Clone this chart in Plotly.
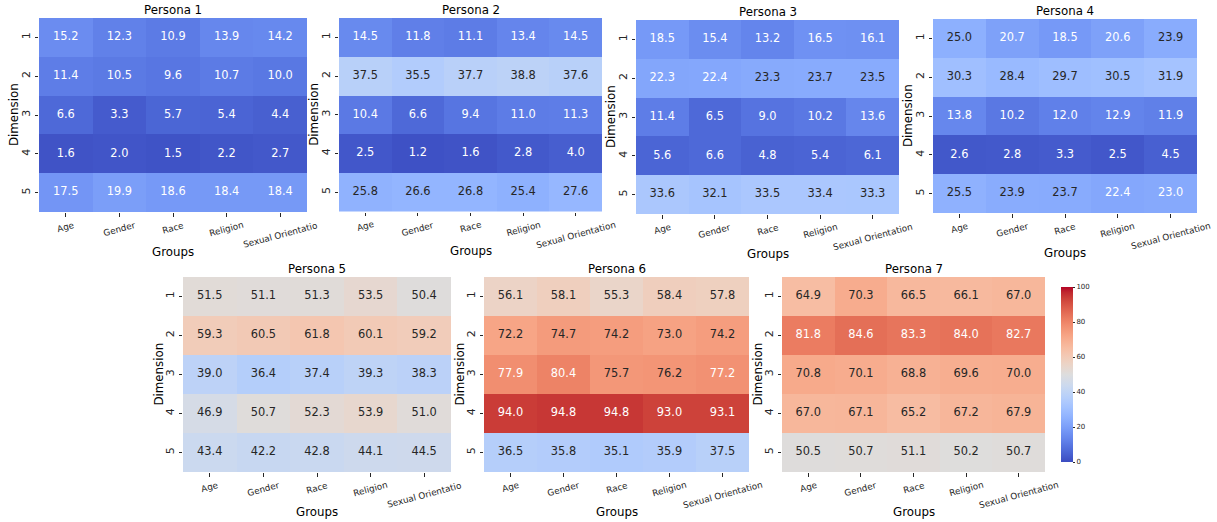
import numpy as np
import plotly.graph_objects as go

# ---------------- data ----------------
groups = ["Age", "Gender", "Race", "Religion", "Sexual Orientation"]
dimensions = ["1", "2", "3", "4", "5"]
persona_titles = ["Persona 1", "Persona 2", "Persona 3", "Persona 4",
                  "Persona 5", "Persona 6", "Persona 7"]

persona1 = [[15.2, 12.3, 10.9, 13.9, 14.2],
            [11.4, 10.5, 9.6, 10.7, 10.0],
            [6.6, 3.3, 5.7, 5.4, 4.4],
            [1.6, 2.0, 1.5, 2.2, 2.7],
            [17.5, 19.9, 18.6, 18.4, 18.4]]
persona2 = [[14.5, 11.8, 11.1, 13.4, 14.5],
            [37.5, 35.5, 37.7, 38.8, 37.6],
            [10.4, 6.6, 9.4, 11.0, 11.3],
            [2.5, 1.2, 1.6, 2.8, 4.0],
            [25.8, 26.6, 26.8, 25.4, 27.6]]
persona3 = [[18.5, 15.4, 13.2, 16.5, 16.1],
            [22.3, 22.4, 23.3, 23.7, 23.5],
            [11.4, 6.5, 9.0, 10.2, 13.6],
            [5.6, 6.6, 4.8, 5.4, 6.1],
            [33.6, 32.1, 33.5, 33.4, 33.3]]
persona4 = [[25.0, 20.7, 18.5, 20.6, 23.9],
            [30.3, 28.4, 29.7, 30.5, 31.9],
            [13.8, 10.2, 12.0, 12.9, 11.9],
            [2.6, 2.8, 3.3, 2.5, 4.5],
            [25.5, 23.9, 23.7, 22.4, 23.0]]
persona5 = [[51.5, 51.1, 51.3, 53.5, 50.4],
            [59.3, 60.5, 61.8, 60.1, 59.2],
            [39.0, 36.4, 37.4, 39.3, 38.3],
            [46.9, 50.7, 52.3, 53.9, 51.0],
            [43.4, 42.2, 42.8, 44.1, 44.5]]
persona6 = [[56.1, 58.1, 55.3, 58.4, 57.8],
            [72.2, 74.7, 74.2, 73.0, 74.2],
            [77.9, 80.4, 75.7, 76.2, 77.2],
            [94.0, 94.8, 94.8, 93.0, 93.1],
            [36.5, 35.8, 35.1, 35.9, 37.5]]
persona7 = [[64.9, 70.3, 66.5, 66.1, 67.0],
            [81.8, 84.6, 83.3, 84.0, 82.7],
            [70.8, 70.1, 68.8, 69.6, 70.0],
            [67.0, 67.1, 65.2, 67.2, 67.9],
            [50.5, 50.7, 51.1, 50.2, 50.7]]

personas = [persona1, persona2, persona3, persona4, persona5, persona6, persona7]

# ---------------- style ----------------
W, H = 1217, 522
FONT = "DejaVu Sans"
DARK = "#262626"

# matplotlib "coolwarm" (Moreland) control points
cw = [(59, 76, 192), (68, 90, 204), (77, 104, 215), (87, 117, 225), (98, 130, 234),
      (108, 142, 241), (119, 154, 247), (130, 165, 251), (141, 176, 254), (152, 185, 255),
      (163, 194, 255), (174, 201, 253), (184, 208, 249), (194, 213, 244), (204, 217, 238),
      (213, 219, 230), (221, 221, 221), (229, 216, 209), (236, 211, 197), (241, 204, 185),
      (245, 196, 173), (247, 187, 160), (247, 177, 148), (247, 166, 135), (244, 154, 123),
      (241, 141, 111), (236, 127, 99), (229, 112, 88), (222, 96, 77), (213, 80, 66),
      (203, 62, 56), (192, 40, 47), (180, 4, 38)]
cw_pos = np.linspace(0, 1, len(cw))
colorscale = [[float(p), "rgb(%d,%d,%d)" % c] for p, c in zip(cw_pos, cw)]
cw_arr = np.array(cw, dtype=float) / 255.0


def text_color(v):
    t = min(max(v / 100.0, 0), 1)
    rgb = np.array([np.interp(t, cw_pos, cw_arr[:, k]) for k in range(3)])
    lin = np.where(rgb <= 0.03928, rgb / 12.92, ((rgb + 0.055) / 1.055) ** 2.4)
    lum = 0.2126 * lin[0] + 0.7152 * lin[1] + 0.0722 * lin[2]
    return DARK if lum > 0.408 else "white"


# plot areas in pixels: (left, right, top, bottom)
boxes = [(39, 307, 18, 212), (339, 602, 18, 211.5), (636, 899, 20, 214), (933, 1197, 19, 213),
         (183, 451, 277, 472), (484, 749, 277, 472), (782, 1045, 277, 472)]
# panels whose last tick label is clipped by the neighbouring axes
clipped = {0, 4}

fig = go.Figure()
annotations = []
layout = {}

for i, (data, title, box) in enumerate(zip(personas, persona_titles, boxes)):
    n = i + 1
    xa = "x" if n == 1 else "x%d" % n
    ya = "y" if n == 1 else "y%d" % n
    L, R, T, B = box
    xdom = [L / W, R / W]
    ydom = [1 - B / H, 1 - T / H]

    show_cb = (i == len(personas) - 1)
    fig.add_trace(go.Heatmap(
        z=data, x=groups, y=dimensions, xaxis=xa, yaxis=ya,
        colorscale=colorscale, zmin=0, zmax=100, showscale=show_cb,
        hoverinfo="skip",
        colorbar=dict(x=1051 / W, xanchor="left", y=1 - 277 / H, yanchor="top",
                      len=(472 - 277) / H, lenmode="fraction", thickness=12,
                      outlinewidth=0, tickvals=[0, 20, 40, 60, 80, 100],
                      ticks="outside", ticklen=2.5, tickwidth=0.8, tickcolor=DARK,
                      tickfont=dict(family=FONT, size=7, color=DARK)) if show_cb else None,
    ))

    xs, ys, txt, cols = [], [], [], []
    for r, d in enumerate(dimensions):
        for c, g in enumerate(groups):
            v = data[r][c]
            xs.append(g)
            ys.append(d)
            txt.append("%.1f" % v)
            cols.append(text_color(v))
    fig.add_trace(go.Scatter(
        x=xs, y=ys, mode="text", text=txt, xaxis=xa, yaxis=ya,
        textposition="middle center",
        textfont=dict(family=FONT, size=11.4, color=cols),
        hoverinfo="skip", showlegend=False))

    key_x = "xaxis" if n == 1 else "xaxis%d" % n
    key_y = "yaxis" if n == 1 else "yaxis%d" % n
    layout[key_x] = dict(domain=xdom, anchor=ya, type="category",
                         categoryorder="array", categoryarray=groups,
                         range=[-0.5, 4.5], showgrid=False, zeroline=False,
                         showline=False, ticks="outside", ticklen=3.5,
                         tickwidth=0.8, tickcolor=DARK, showticklabels=False)
    layout[key_y] = dict(domain=ydom, anchor=xa, type="category",
                         categoryorder="array", categoryarray=dimensions,
                         range=[4.5, -0.5], showgrid=False, zeroline=False,
                         showline=False, ticks="outside", ticklen=3.5,
                         tickwidth=0.8, tickcolor=DARK, tickangle=-90,
                         tickfont=dict(family=FONT, size=11, color=DARK))

    # rotated x tick labels (centre-anchored, like matplotlib)
    for c, g in enumerate(groups):
        label = g[:-1] if (i in clipped and c == len(groups) - 1) else g
        annotations.append(dict(
            x=g, xref=xa, y=1 - (B + 5.5) / H, yref="paper",
            text=label, showarrow=False, textangle=-15,
            xanchor="center", yanchor="top",
            font=dict(family=FONT, size=8.8, color=DARK)))

    cx = (L + R) / 2 / W
    # title
    annotations.append(dict(x=cx, y=1 - (T - 8) / H, xref="paper", yref="paper",
                            text=title, showarrow=False, xanchor="center", yanchor="middle",
                            font=dict(family=FONT, size=11.8, color="black")))
    # x axis label
    annotations.append(dict(x=cx, y=1 - (B + 40) / H, xref="paper", yref="paper",
                            text="Groups", showarrow=False, xanchor="center", yanchor="middle",
                            font=dict(family=FONT, size=11.8, color="black")))
    # y axis label
    annotations.append(dict(x=(L - 25) / W, y=1 - (T + B) / 2 / H, xref="paper", yref="paper",
                            text="Dimension", showarrow=False, textangle=-90,
                            xanchor="center", yanchor="middle",
                            font=dict(family=FONT, size=11.8, color="black")))

fig.update_layout(
    width=W, height=H,
    margin=dict(l=0, r=0, t=0, b=0),
    paper_bgcolor="white", plot_bgcolor="white",
    showlegend=False,
    font=dict(family=FONT, color=DARK),
    annotations=annotations,
    **layout,
)

fig.write_html("out.html",
               config={"displayModeBar": False},
               post_script="document.body.style.margin='0';document.body.style.overflow='hidden';")
